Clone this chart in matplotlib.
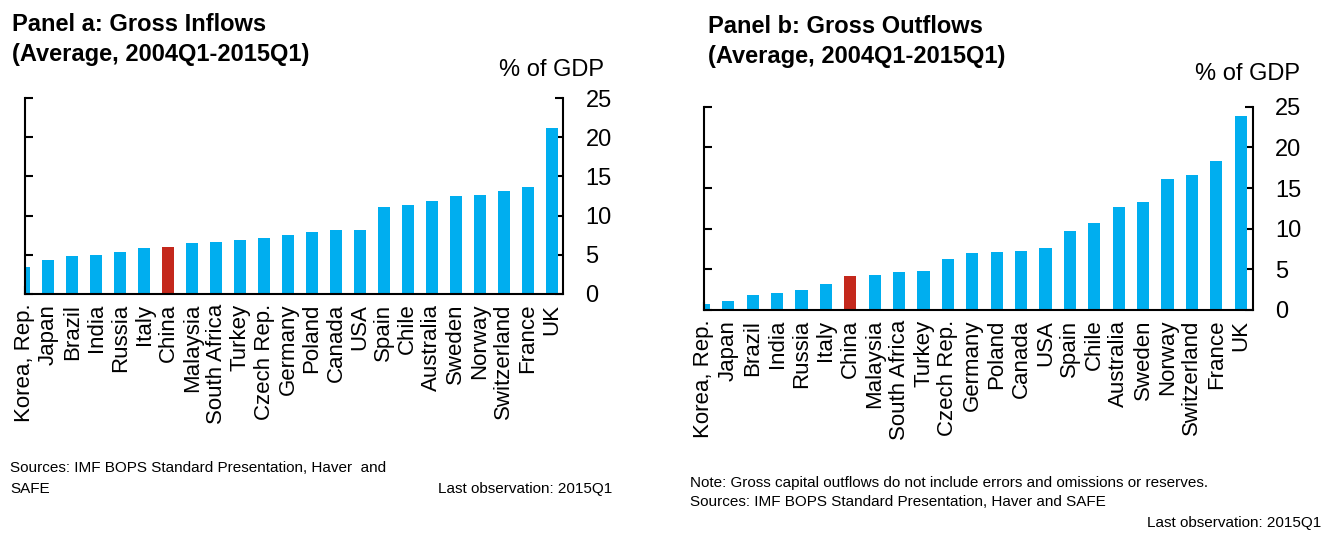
import matplotlib
matplotlib.use("Agg")
import matplotlib.pyplot as plt
import numpy as np

plt.rcParams["font.family"] = ["Liberation Sans", "DejaVu Sans"]

W, H = 1323, 533

countries = ["Korea, Rep.", "Japan", "Brazil", "India", "Russia", "Italy", "China",
             "Malaysia", "South Africa", "Turkey", "Czech Rep.", "Germany", "Poland",
             "Canada", "USA", "Spain", "Chile", "Australia", "Sweden", "Norway",
             "Switzerland", "France", "UK"]
inflows = [3.4, 4.4, 4.85, 4.95, 5.4, 5.85, 6.0, 6.45, 6.6, 6.95, 7.1, 7.5, 7.95,
           8.2, 8.2, 11.1, 11.3, 11.8, 12.45, 12.6, 13.15, 13.7, 21.2]
outflows = [0.7, 1.15, 1.8, 2.1, 2.5, 3.15, 4.2, 4.25, 4.7, 4.8, 6.3, 6.95, 7.1,
            7.2, 7.65, 9.7, 10.7, 12.65, 13.25, 16.05, 16.6, 18.3, 23.8]
highlight = "China"
yticks = [0, 5, 10, 15, 20, 25]

BLUE = "#00AEEF"
RED = "#C4281C"


def px(x, y):
    return x / W, 1 - y / H


def draw_panel(ax, values):
    x = np.arange(len(countries))
    colors = [RED if c == highlight else BLUE for c in countries]
    ax.bar(x, values, width=0.5, color=colors, zorder=2)
    ax.set_xlim(0, 22.49)
    ax.set_ylim(0, 25)
    ax.set_yticks(yticks)
    ax.set_xticks(x)
    ax.set_xticklabels(countries, rotation=90, fontsize=16)
    ax.spines["top"].set_visible(False)
    for s in ["left", "right", "bottom"]:
        ax.spines[s].set_linewidth(1.5)
        ax.spines[s].set_zorder(3)
    ax.tick_params(axis="y", direction="in", left=True, right=True,
                   labelleft=False, labelright=True, length=6, width=1.5,
                   labelsize=17, pad=16)
    ax.tick_params(axis="x", direction="in", length=6, width=1.5, pad=7)


fig = plt.figure(figsize=(W / 100, H / 100), dpi=100)

ax1 = fig.add_axes([24.5 / W, 1 - 294 / H, 538.8 / W, 196 / H])
draw_panel(ax1, inflows)
ax2 = fig.add_axes([704 / W, 1 - 310 / H, 548.7 / W, 203.3 / H])
draw_panel(ax2, outflows)

# titles
fig.text(*px(12, 31), "Panel a: Gross Inflows", fontsize=17, fontweight="bold", va="baseline")
fig.text(*px(12, 61), "(Average, 2004Q1-2015Q1)", fontsize=17, fontweight="bold", va="baseline")
fig.text(*px(708, 33), "Panel b: Gross Outflows", fontsize=17, fontweight="bold", va="baseline")
fig.text(*px(708, 63), "(Average, 2004Q1-2015Q1)", fontsize=17, fontweight="bold", va="baseline")
fig.text(*px(604, 76), "% of GDP", fontsize=17, ha="right", va="baseline")
fig.text(*px(1300, 80), "% of GDP", fontsize=17, ha="right", va="baseline")

# footers
fig.text(*px(10, 468), "Sources: IMF BOPS Standard Presentation, Haver  and",
         fontsize=11, va="center")
fig.text(*px(10, 489), "SAFE", fontsize=11, va="center")
fig.text(*px(612, 489), "Last observation: 2015Q1", fontsize=11, ha="right", va="center")
fig.text(*px(690, 483),
         "Note: Gross capital outflows do not include errors and omissions or reserves.",
         fontsize=11, va="center")
fig.text(*px(690, 502), "Sources: IMF BOPS Standard Presentation, Haver and SAFE",
         fontsize=11, va="center")
fig.text(*px(1321, 523), "Last observation: 2015Q1", fontsize=11, ha="right", va="center")

fig.savefig("out.png", dpi=100)
